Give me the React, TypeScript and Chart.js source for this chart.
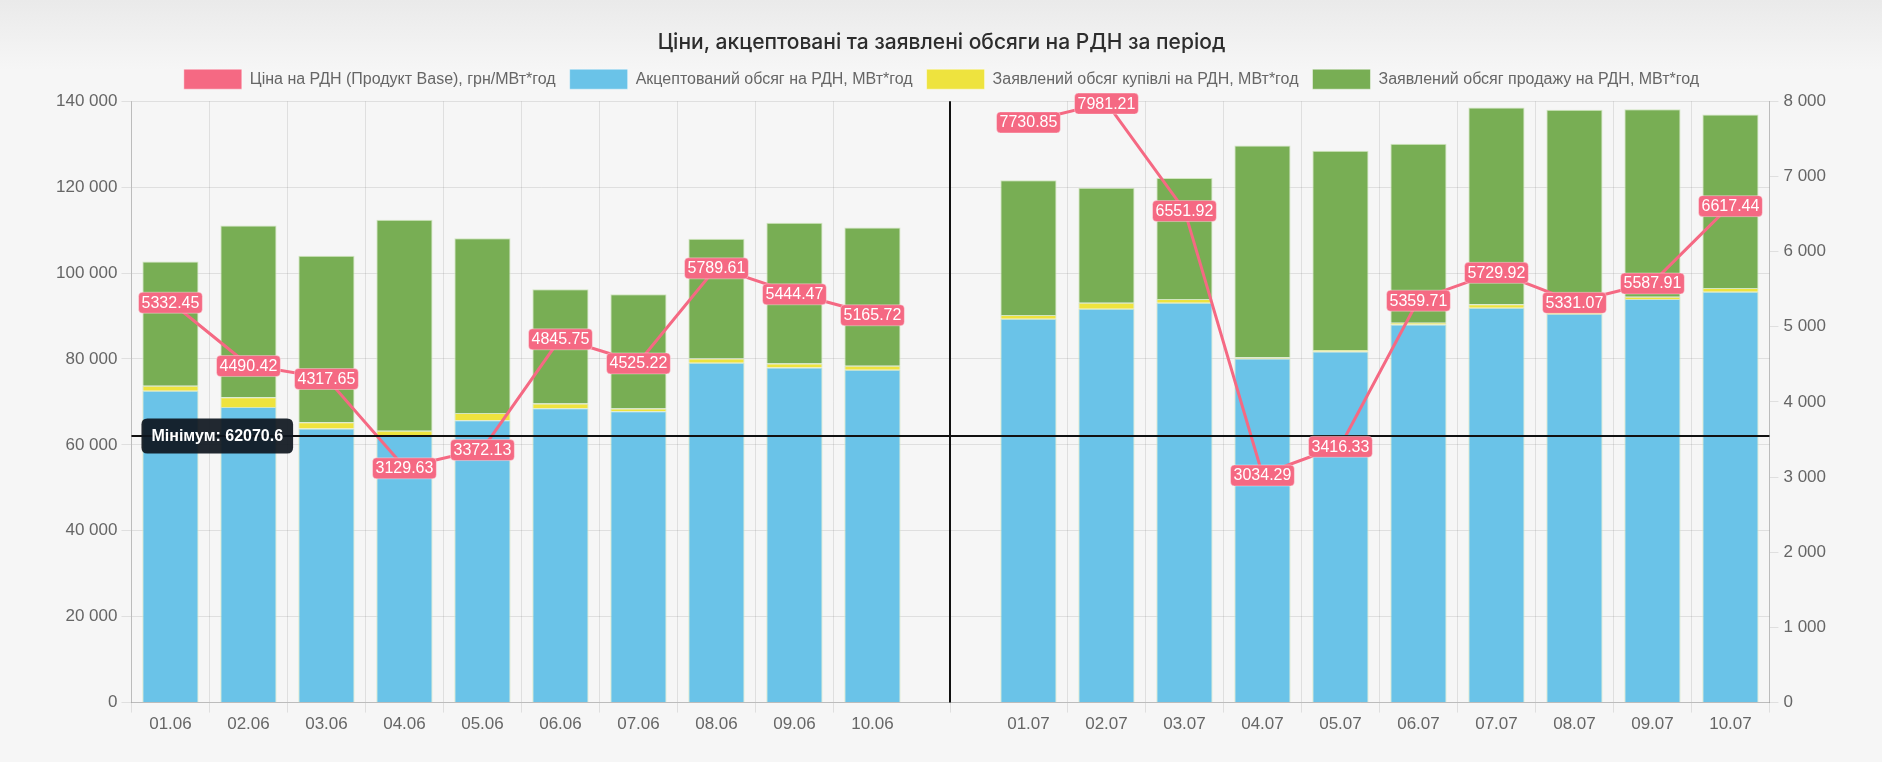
import React, { useEffect, useRef } from "react";
import { Chart, registerables } from "chart.js";

Chart.register(...registerables);

const labels = [
  "01.06", "02.06", "03.06", "04.06", "05.06", "06.06", "07.06", "08.06", "09.06", "10.06",
  "",
  "01.07", "02.07", "03.07", "04.07", "05.07", "06.07", "07.07", "08.07", "09.07", "10.07",
];

// ціна, грн/МВт*год (права вісь)
const price = [
  5332.45, 4490.42, 4317.65, 3129.63, 3372.13, 4845.75, 4525.22, 5789.61, 5444.47, 5165.72,
  null,
  7730.85, 7981.21, 6551.92, 3034.29, 3416.33, 5359.71, 5729.92, 5331.07, 5587.91, 6617.44,
];

// обсяги, МВт*год (ліва вісь, стек)
const accepted = [
  72570, 68830, 63780, 62070.6, 65720, 68520, 67820, 79100, 78010, 77470,
  null,
  89370, 91700, 93100, 80080, 81760, 88040, 91930, 90500, 93960, 95670,
];
const buyDeclared = [
  1170, 2230, 1490, 1240, 1710, 1090, 620, 1010, 930, 930,
  null,
  860, 1400, 860, 300, 300, 390, 780, 500, 540, 860,
];
const sellDeclared = [
  28930, 40000, 38730, 49090, 40670, 26590, 26600, 27850, 32750, 32200,
  null,
  31340, 26770, 28150, 49280, 46430, 41690, 45820, 46990, 43630, 40370,
];

const leftAxis = { min: 0, max: 140000, step: 20000 };
const rightAxis = { min: 0, max: 8000, step: 1000 };
const DIVIDER_INDEX = 10;

const PINK = "rgb(245,105,131)";
const BLUE = "rgb(106,195,232)";
const YELLOW = "rgb(238,227,62)";
const GREEN = "rgb(120,174,84)";
const GRID = "rgba(0,0,0,0.09)";
const FONT = "'Liberation Sans', Arial, sans-serif";

const fmt = (v: number | string) =>
  String(v).replace(/\B(?=(\d{3})+(?!\d))/g, " ");

const minAccepted = Math.min(...(accepted.filter((v) => v != null) as number[]));

function roundRect(ctx: CanvasRenderingContext2D, x: number, y: number, w: number, h: number, r: number) {
  ctx.beginPath();
  ctx.moveTo(x + r, y);
  ctx.lineTo(x + w - r, y);
  ctx.quadraticCurveTo(x + w, y, x + w, y + r);
  ctx.lineTo(x + w, y + h - r);
  ctx.quadraticCurveTo(x + w, y + h, x + w - r, y + h);
  ctx.lineTo(x + r, y + h);
  ctx.quadraticCurveTo(x, y + h, x, y + h - r);
  ctx.lineTo(x, y + r);
  ctx.quadraticCurveTo(x, y, x + r, y);
  ctx.closePath();
}

// a little more room under the legend
const legendSpacing = {
  id: "legendSpacing",
  beforeInit(chart: any) {
    const legend = chart.legend;
    if (!legend) return;
    const origFit = legend.fit;
    legend.fit = function () {
      origFit.call(this);
      this.height += 2;
    };
  },
};

// divider, minimum line and value labels
const overlayPlugin = {
  id: "overlay",
  afterDatasetsDraw(chart: any) {
    const { ctx, chartArea, scales } = chart;
    ctx.save();

    const dx = Math.round(scales.x.getPixelForValue(DIVIDER_INDEX));
    ctx.strokeStyle = GRID;
    ctx.lineWidth = 1;
    ctx.beginPath();
    ctx.moveTo(dx + 0.5, chartArea.bottom);
    ctx.lineTo(dx + 0.5, chartArea.bottom + 10);
    ctx.stroke();

    ctx.strokeStyle = "#111";
    ctx.lineWidth = 2;
    ctx.beginPath();
    ctx.moveTo(dx, chartArea.top);
    ctx.lineTo(dx, chartArea.bottom);
    ctx.stroke();

    const my = Math.round(scales.y.getPixelForValue(minAccepted));
    ctx.beginPath();
    ctx.moveTo(chartArea.left, my);
    ctx.lineTo(chartArea.right, my);
    ctx.stroke();

    // value labels on price line
    ctx.font = `16px ${FONT}`;
    ctx.textAlign = "center";
    ctx.textBaseline = "middle";
    const meta = chart.getDatasetMeta(0);
    meta.data.forEach((pt: any, i: number) => {
      const v = price[i];
      if (v == null) return;
      const text = v.toFixed(2);
      const tw = ctx.measureText(text).width;
      const w = tw + 6;
      const h = 21;
      roundRect(ctx, pt.x - w / 2, pt.y - h / 2 + 1, w, h, 4);
      ctx.fillStyle = PINK;
      ctx.fill();
      ctx.strokeStyle = "rgba(255,255,255,0.35)";
      ctx.lineWidth = 1;
      ctx.stroke();
      ctx.fillStyle = "#fff";
      ctx.fillText(text, pt.x, pt.y + 1.5);
    });

    // minimum label
    const label = `Мінімум: ${minAccepted}`;
    ctx.font = `bold 16px ${FONT}`;
    const lw = ctx.measureText(label).width + 20;
    const lh = 35;
    roundRect(ctx, chartArea.left + 10, my - lh / 2, lw, lh, 6);
    ctx.fillStyle = "rgba(14,22,30,0.92)";
    ctx.fill();
    ctx.fillStyle = "#fff";
    ctx.textAlign = "left";
    ctx.fillText(label, chartArea.left + 20, my + 1);

    ctx.restore();
  },
};

const App: React.FC = () => {
  const chartRef = useRef<HTMLCanvasElement>(null);
  const chartInstance = useRef<Chart | null>(null);

  useEffect(() => {
    document.body.style.margin = "0";
    document.body.style.background = "#f6f6f6";
    if (!chartRef.current) return;
    if (chartInstance.current) chartInstance.current.destroy();

    const barCommon = {
      type: "bar" as const,
      yAxisID: "y",
      borderWidth: 1,
      borderColor: "rgba(205,228,185,0.9)",
    };

    chartInstance.current = new Chart(chartRef.current, {
      type: "bar",
      data: {
        labels,
        datasets: [
          {
            type: "line",
            label: "Ціна на РДН (Продукт Base), грн/МВт*год",
            data: price,
            yAxisID: "y1",
            borderColor: PINK,
            backgroundColor: PINK,
            borderWidth: 3,
            pointRadius: 0,
            tension: 0,
            spanGaps: false,
          } as any,
          { ...barCommon, label: "Акцептований обсяг на РДН, МВт*год", data: accepted, backgroundColor: BLUE },
          { ...barCommon, label: "Заявлений обсяг купівлі на РДН, МВт*год", data: buyDeclared, backgroundColor: YELLOW },
          { ...barCommon, label: "Заявлений обсяг продажу на РДН, МВт*год", data: sellDeclared, backgroundColor: GREEN },
        ],
      },
      options: {
        responsive: true,
        maintainAspectRatio: false,
        animation: false,
        events: [],
        layout: { padding: { top: 18, left: 52, right: 51, bottom: 25 } },
        plugins: {
          title: {
            display: true,
            text: "Ціни, акцептовані та заявлені обсяги на РДН за період",
            color: "#2d2d2d",
            font: { family: "Inter, 'Noto Sans', sans-serif", size: 21, weight: 500 },
            padding: { top: 12, bottom: 0 },
          },
          legend: {
            position: "top",
            labels: {
              boxWidth: 58,
              boxHeight: 20,
              padding: 14,
              color: "#666",
              font: { family: FONT, size: 16 },
              generateLabels: (chart: any) =>
                Chart.defaults.plugins.legend.labels.generateLabels(chart).map((l: any) => ({
                  ...l,
                  lineWidth: 1,
                  strokeStyle: "rgba(255,255,255,0.45)",
                })),
            },
          },
          tooltip: { enabled: false },
        },
        scales: {
          x: {
            stacked: true,
            grid: {
              color: (c: any) =>
                c.index === DIVIDER_INDEX || c.index === DIVIDER_INDEX + 1 ? "rgba(0,0,0,0)" : GRID,
              tickLength: 10,
            },
            border: { color: "rgba(0,0,0,0.16)" },
            ticks: { color: "#666", font: { family: FONT, size: 17 }, padding: 2, maxRotation: 0, autoSkip: false },
          },
          y: {
            stacked: true,
            position: "left",
            min: leftAxis.min,
            max: leftAxis.max,
            grid: { color: GRID, tickLength: 10 },
            border: { color: "rgba(0,0,0,0.16)" },
            ticks: {
              stepSize: leftAxis.step,
              color: "#666",
              font: { family: FONT, size: 17 },
              padding: 4,
              callback: (v: any) => fmt(v),
            },
          },
          y1: {
            position: "right",
            min: rightAxis.min,
            max: rightAxis.max,
            grid: { drawOnChartArea: false, color: GRID, tickLength: 9 },
            border: { color: "rgba(0,0,0,0.16)" },
            ticks: {
              stepSize: rightAxis.step,
              color: "#666",
              font: { family: FONT, size: 17 },
              padding: 5,
              callback: (v: any) => fmt(v),
            },
          },
        },
      },
      plugins: [legendSpacing, overlayPlugin],
    });

    return () => {
      if (chartInstance.current) {
        chartInstance.current.destroy();
        chartInstance.current = null;
      }
    };
  }, []);

  return (
    <div
      style={{
        position: "relative",
        width: 1882,
        height: 762,
        background: "linear-gradient(to bottom, #eaeaea 0px, #f6f6f6 70px)",
      }}
    >
      <canvas ref={chartRef}></canvas>
    </div>
  );
};

export default App;
